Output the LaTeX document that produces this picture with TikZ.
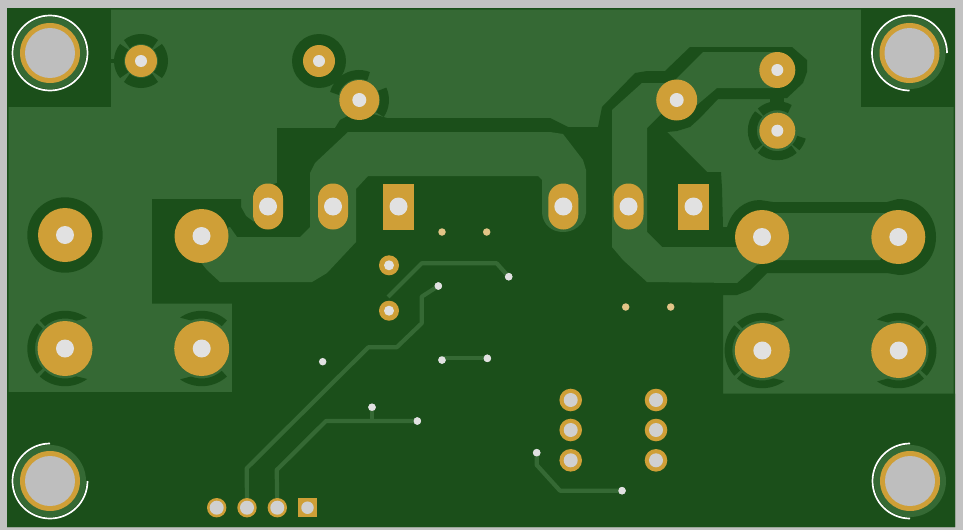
\documentclass[tikz,border=0pt]{standalone}
\definecolor{cuDark}{HTML}{1B4F1A}
\definecolor{cuLight}{HTML}{356934}
\definecolor{padGold}{HTML}{CF9F37}
\definecolor{drillGrey}{HTML}{E1E1E1}
\definecolor{pinGrey}{HTML}{D0D0D0}
\definecolor{holeGrey}{HTML}{BEBEBE}
\definecolor{frameGrey}{HTML}{C2C2C2}
\newcommand{\roundpad}[4]{
    \node[padcu,minimum size=#3pt] (#1) at (#2) {};
    \node[drill,minimum size=#4pt] (#1d) at (#2) {};
}
\newcommand{\pinpad}[3]{
    \node[padcu,minimum size=#3pt] (#1) at (#2) {};
    \node[drill,fill=pinGrey,minimum size=14pt] (#1d) at (#2) {};
}
\newcommand{\slotpad}[2]{
    \node[slotcu] (#1) at (#2) {};
    \node[drill,minimum size=18pt] (#1d) at (#2) {};
}
\newcommand{\squarepad}[2]{
    \node[squarecu] (#1) at (#2) {};
    \node[drill,minimum size=18pt] (#1d) at (#2) {};
}
\newcommand{\mounthole}[4]{
    \node[circle,fill=cuLight,inner sep=0pt,minimum size=72pt] (#1r) at (#2) {};
    \node[padcu,minimum size=60pt] (#1) at (#2) {};
    \node[drill,fill=holeGrey,minimum size=50pt] (#1d) at (#2) {};
    \draw[white,line width=1.7pt] (#2) ++({-(#3)}:37.5) arc[start angle={-(#3)},end angle={-(#4)},radius=37.5];
}
\newcommand{\reliefarc}[5]{
    \draw[relief,line width=#3pt] (#1) ++({-(#4)}:#2) arc[start angle={-(#4)},end angle={-(#5)},radius=#2];
}
% sector of a terminal relief, its ends drawn in to a point by #4 and #5 degrees
\newcommand{\reliefwedge}[5]{
    \fill[relief] (#1) ++({-(#2)}:37.7) arc[start angle={-(#2)},end angle={-(#3)},radius=37.7]
        -- ($(#1)+({-(#3-#5)}:30)$) arc[start angle={-(#3-#5)},end angle={-(#2+#4)},radius=30] -- cycle;
}
\usetikzlibrary{calc}
\begin{document}
\begin{tikzpicture}[x=1pt,y=-1pt]
    \tikzstyle{padcu}=[circle,fill=padGold,inner sep=0pt]
    \tikzstyle{drill}=[circle,fill=drillGrey,inner sep=0pt]
    \tikzstyle{slotcu}=[rectangle,fill=padGold,inner sep=0pt,minimum width=30pt,minimum height=46pt,rounded corners=14.9pt]
    \tikzstyle{squarecu}=[rectangle,fill=padGold,inner sep=0pt,minimum width=31pt,minimum height=46pt]
    \tikzstyle{via}=[circle,fill=drillGrey,inner sep=0pt,minimum size=7.5pt]
    \tikzstyle{tinypad}=[circle,fill=padGold!60!white,inner sep=0pt,minimum size=7.5pt]
    \tikzstyle{track}=[cuLight,line width=4.2pt,line join=round]
    \tikzstyle{relief}=[cuDark]
    \useasboundingbox (0,0) rectangle (963,530);
    \fill[frameGrey] (0,0) rectangle (963,530);
    \fill[cuLight] (7,8) rectangle (955,527);
    % copper pour
    \fill[cuDark] (7,8) rectangle (111,107);
    \fill[cuDark] (860.5,8) rectangle (955,107);
    \fill[cuDark] (7,392) -- (232,392) -- (232,303.5) -- (152,303.5) -- (152,199) -- (241,199)
        -- (241,207) -- (246,216) -- (254,222) -- (254,190) -- (277,183) -- (277,128) -- (335,128)
        -- (340,120) -- (359,110) -- (387,118) -- (550,118) -- (568,127) -- (598,127) -- (600,117)
        -- (602,107) -- (635,73) -- (647,71) -- (665,71) -- (690,47) -- (792,47) -- (807,60)
        -- (807,72) -- (803,83) -- (787,98) -- (773,99) -- (718,99) -- (700,118) -- (690,127)
        -- (677,131) -- (667,132) -- (707,172) -- (721,172) -- (722,188) -- (723,227) -- (727,227)
        .. controls (732,210) and (745,200) .. (760,200) -- (773,202) -- (887,202) -- (898,199)
        .. controls (920,199) and (936,215) .. (936,237) .. controls (936,259) and (920,275) .. (899,275)
        -- (887,273) -- (767,273) -- (750,290) -- (737,295) -- (723,295) -- (723,393.5)
        -- (955,393.5) -- (955,527) -- (7,527) -- cycle;
    \fill[cuLight] (230,227) -- (237,237) -- (300,237) -- (310,227) -- (310,173) -- (315,163)
        -- (348,132) -- (550,132) -- (563,134) -- (583,160) -- (586,170) -- (586,213)
        .. controls (584,225) and (574,232) .. (563,232) .. controls (552,232) and (543,225) .. (542,213)
        -- (542,180) -- (538,176) -- (368,176) -- (356,189) -- (356,242) -- (327,273) -- (312,282)
        -- (220,282) -- (207,270) -- (195,255) -- (201,236) -- cycle;
    \fill[cuLight] (612,117) -- (612,110) -- (642,83) -- (672,83) -- (672,90) -- (662,113) -- (653,122)
        -- (647,128) -- (647,232) -- (662,247) -- (740,247) -- (745,225) -- (762,215) -- (773,213)
        -- (887,213) -- (898,237) -- (880,260) -- (777,260) -- (757,265) -- (737,283) -- (647,282)
        -- (623,260) -- (612,247) -- cycle;
    \fill[cuLight] (675,80) -- (697,58) -- (703,52) -- (775,52) -- (775,88) -- (717,88) -- (697,105)
        -- (680,100) -- cycle;
    \fill[cuDark] (7,8) rectangle (955,9.5) (7,525.5) rectangle (955,527) (7,8) rectangle (8.5,527)
        (953.5,8) rectangle (955,527);
    % clearance rings
    \fill[cuDark] (65,235) circle[radius=37.7];
    \fill[cuDark] (319,61) circle[radius=27];
    \fill[cuDark] (111,59) rectangle (118,63);
    \fill[cuDark] (770,97) rectangle (784,108);
    \foreach \a/\b in {50/130,140/220,230/310,320/400}{
        \reliefarc{141,61}{22}{10}{\a}{\b}
    }
    \reliefarc{359,100}{25.5}{9}{68}{165}
    \reliefarc{359,100}{25.5}{9}{25}{-35}
    \foreach \a/\b in {60/132,138/222,228/312,318/345}{
        \reliefarc{777.3,130.7}{25}{9}{\a}{\b}
    }
    \reliefwedge{65,348.5}{54}{132}{14}{0}
    \reliefwedge{65,348.5}{138}{222}{0}{0}
    \reliefwedge{65,348.5}{228}{306}{0}{14}
    \reliefwedge{762.3,350.5}{54}{132}{14}{0}
    \reliefwedge{762.3,350.5}{138}{222}{0}{0}
    \reliefwedge{762.3,350.5}{228}{306}{0}{14}
    \reliefwedge{201.7,348.5}{48}{125}{0}{14}
    \reliefwedge{201.7,348.5}{235}{312}{14}{0}
    \reliefwedge{898.7,350.5}{48}{125}{0}{14}
    \reliefwedge{898.7,350.5}{235}{312}{14}{0}
    \reliefwedge{898.7,350.5}{318}{402}{0}{0}
    % vias, tracks end on them
    \node[via] (viaA) at (508.7,276.7) {};
    \node[via] (viaB) at (438.3,286) {};
    \node[via] (viaC) at (322.7,361.7) {};
    \node[via] (viaD) at (442,360) {};
    \node[via] (viaE) at (487.3,358.3) {};
    \node[via] (viaF) at (372,407.3) {};
    \node[via] (viaG) at (417.3,421) {};
    \node[via] (viaH) at (536.7,452.7) {};
    \node[via] (viaI) at (622,490.7) {};
    \coordinate (hdrBc) at (247,507.7);
    \coordinate (hdrCc) at (277.3,507.7);
    \coordinate (trackStart) at (388,297);
    \coordinate (trackJoin) at (372,421);
    \draw[track] (trackStart) -- (421.7,263.3) -- (496.7,263.3) -- (viaA.center);
    \draw[track] (viaB.center) -- (421.7,296.7) -- (421.7,323.3) -- (396.7,347.3) -- (368.3,347.3) -- (246.7,468.3) -- (hdrBc);
    \draw[track] (viaG.center) -- (326,421) -- (276.7,470) -- (hdrCc);
    \draw[track] (viaF.center) -- (trackJoin);
    \draw[track] (viaD.center) -- (442,358.3) -- (viaE.center);
    \draw[track] (viaH.center) -- (536.7,465) -- (560,490.7) -- (viaI.center);
    \foreach \n in {A,B,D,E,F,G,H,I}{
        \node[via] at (via\n) {};
    }
    % pads
    \pinpad{hdrA}{216.7,507.7}{19.4}
    \pinpad{hdrB}{247,507.7}{19.4}
    \pinpad{hdrC}{277.3,507.7}{19.4}
    \node[squarecu,minimum width=19.4pt,minimum height=19.4pt] (hdrD) at (307.5,507.7) {};
    \node[drill,fill=pinGrey,minimum size=12.5pt] (hdrDd) at (307.5,507.7) {};
    \roundpad{termA}{65,235}{54}{18}
    \roundpad{termB}{201.5,236}{54}{18}
    \roundpad{termC}{65,348.5}{55}{18}
    \roundpad{termD}{201.7,348.5}{55}{18}
    \roundpad{termE}{762,237}{54}{18}
    \roundpad{termF}{898.3,237}{54}{18}
    \roundpad{termG}{762.3,350.5}{55}{18}
    \roundpad{termH}{898.7,350.5}{55}{18}
    \roundpad{capA}{141,61}{32}{12}
    \roundpad{capB}{319,61}{32}{12}
    \roundpad{capC}{359.3,100}{40}{14}
    \roundpad{capD}{676.7,100}{41}{14}
    \roundpad{capE}{777.3,70}{36}{12}
    \roundpad{capF}{777.3,130.7}{36}{12}
    \roundpad{diodeA}{389,265.3}{20}{10}
    \roundpad{diodeB}{389,310.7}{20}{10}
    \slotpad{slotA}{268,206.5}
    \slotpad{slotB}{333,206.5}
    \squarepad{slotC}{398.5,206.5}
    \slotpad{slotD}{563.3,206.5}
    \slotpad{slotE}{628.5,206.5}
    \squarepad{slotF}{693.5,206.5}
    \foreach \n/\x/\y in {a/442/232,b/486.7/232,c/625.7/307,d/670.7/307}{
        \node[tinypad] (tiny\n) at (\x,\y) {};
    }
    \foreach \n/\x in {l/570.7,r/656}{
        \foreach \m/\y in {a/400,b/430,c/460.3}{
            \pinpad{sock\n\m}{\x,\y}{22.6}
        }
    }
    % mounting holes
    \mounthole{holeTL}{50,53}{0}{360}
    \mounthole{holeTR}{909.5,53}{0}{270}
    \mounthole{holeBL}{50,481}{90}{360}
    \mounthole{holeBR}{910,481}{90}{270}
\end{tikzpicture}
\end{document}
